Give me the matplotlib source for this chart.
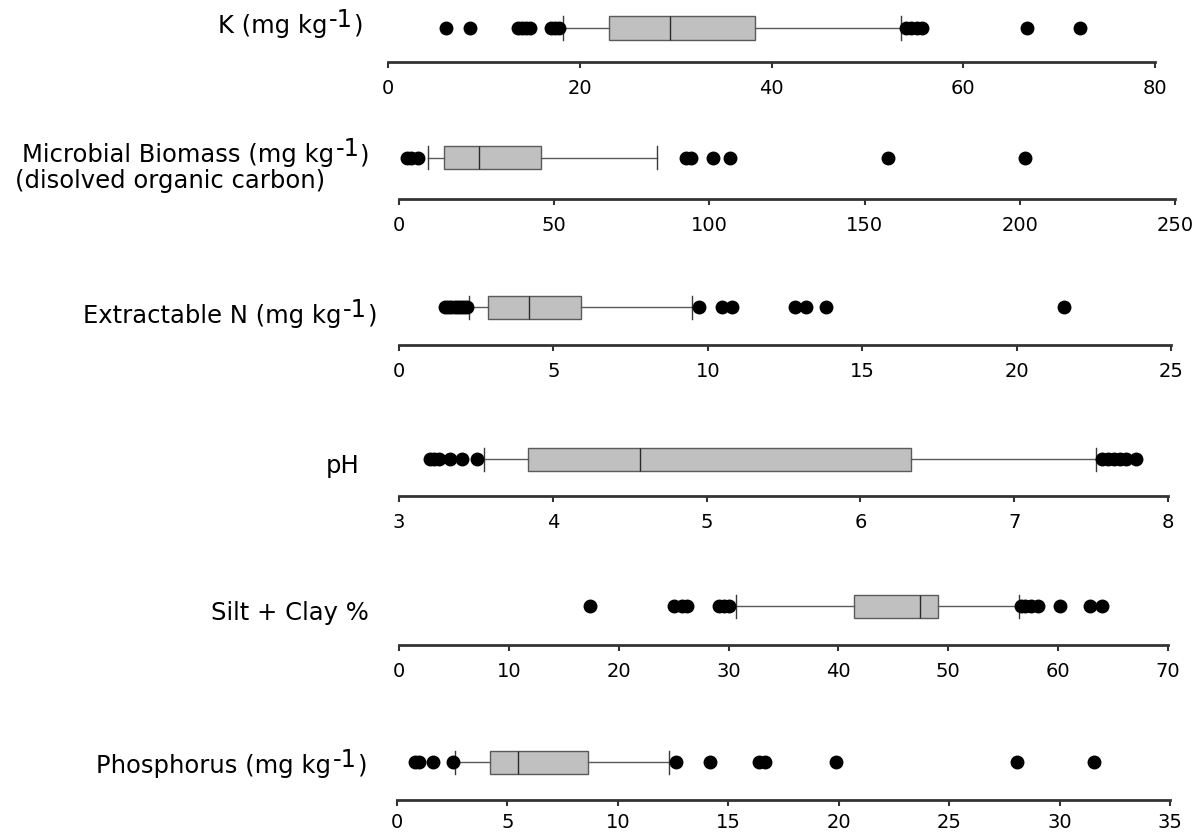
import matplotlib
matplotlib.use("Agg")
import matplotlib.pyplot as plt

# ---------------- data ----------------
label_parts = [
    [("K (mg kg", False), ("-1", True), (")", False)],
    [("Microbial Biomass (mg kg", False), ("-1", True), (")", False)],
    [("Extractable N (mg kg", False), ("-1", True), (")", False)],
    [("pH", False)],
    [("Silt + Clay %", False)],
    [("Phosphorus (mg kg", False), ("-1", True), (")", False)],
]
second_line = "(disolved organic carbon)"

q1s = [23.1, 14.5, 2.87, 3.84, 41.4, 4.2]
medians = [29.4, 25.9, 4.22, 4.57, 47.4, 5.48]
q3s = [38.3, 45.8, 5.9, 6.33, 49.1, 8.64]
whislos = [18.3, 9.3, 2.28, 3.55, 30.7, 2.62]
whishis = [53.5, 83.2, 9.48, 7.53, 56.4, 12.3]

fliers_k = [6.1, 8.6, 13.6, 14.0, 14.4, 14.8, 17.0, 17.4, 17.8,
            54.0, 54.6, 55.2, 55.7, 66.6, 72.2]
fliers_mb = [2.5, 4.0, 6.0, 92.5, 94.0, 101.2, 106.5, 157.5, 201.6]
fliers_n = [1.5, 1.6, 1.7, 1.8, 1.9, 2.0, 2.1, 2.2,
            9.71, 10.46, 10.78, 12.84, 13.18, 13.83, 21.55]
fliers_ph = [3.2, 3.23, 3.26, 3.33, 3.41, 3.51,
             7.57, 7.61, 7.65, 7.69, 7.73, 7.79]
fliers_silt = [17.4, 25.0, 25.8, 26.25, 29.1, 29.6, 30.0,
               56.6, 57.0, 57.5, 58.2, 60.2, 62.9, 64.0]
fliers_p = [0.8, 1.0, 1.63, 2.53, 12.64, 14.17, 16.4, 16.65, 19.86, 28.06, 31.55]
fliers = [fliers_k, fliers_mb, fliers_n, fliers_ph, fliers_silt, fliers_p]

ticks_k = [0, 20, 40, 60, 80]
ticks_mb = [0, 50, 100, 150, 200, 250]
ticks_n = [0, 5, 10, 15, 20, 25]
ticks_ph = [3, 4, 5, 6, 7, 8]
ticks_silt = [0, 10, 20, 30, 40, 50, 60, 70]
ticks_p = [0, 5, 10, 15, 20, 25, 30, 35]
ticks = [ticks_k, ticks_mb, ticks_n, ticks_ph, ticks_silt, ticks_p]

# ---------------- layout (pixels) ----------------
W, H = 1198, 835
x0_px = [388, 399, 399, 399, 399, 397]
x1_px = [1155, 1175, 1171, 1168, 1168, 1170]
box_y = [28, 158, 307, 459, 606, 762]
axis_y = [62, 199, 345, 496, 645, 800]
tick_pad = [8, 8, 8, 8, 8, 5.5]
label_xr = [363, 370, 377, 360, 369, 367]
label_base = [33, 162, 323, 473, 620, 773]
line2_x, line2_base = 15, 188
SUP_RAISE = 6
BOX_H = 23
FONT = ['DejaVu Sans']
LABEL_SIZE = 17.5
TICK_SIZE = 14

plt.rcParams['font.family'] = FONT

fig = plt.figure(figsize=(W / 100, H / 100), dpi=100)
renderer = fig.canvas.get_renderer()


def place_label(xr, yb, parts):
    x = xr
    for txt, sup in reversed(parts):
        y = yb - (SUP_RAISE if sup else 0)
        t = fig.text(x / W, 1 - y / H, txt, ha='right', va='baseline',
                     fontsize=LABEL_SIZE, color='black')
        bb = t.get_window_extent(renderer)
        x -= bb.width + 1


for i in range(6):
    hpx = 2 * (axis_y[i] - box_y[i])
    ax = fig.add_axes([x0_px[i] / W, 1 - axis_y[i] / H,
                       (x1_px[i] - x0_px[i]) / W, hpx / H])
    stats = [dict(q1=q1s[i], med=medians[i], q3=q3s[i],
                  whislo=whislos[i], whishi=whishis[i], fliers=fliers[i])]
    w = BOX_H / hpx
    ax.bxp(stats, positions=[0.5], widths=w, capwidths=w, vert=False,
           patch_artist=True,
           boxprops=dict(facecolor='#c0c0c0', edgecolor='#5a5a5a', linewidth=1.0),
           whiskerprops=dict(color='#5a5a5a', linewidth=1.0),
           capprops=dict(color='#3a3a3a', linewidth=1.0),
           medianprops=dict(color='#2a2a2a', linewidth=1.0),
           flierprops=dict(marker='o', markerfacecolor='black',
                           markeredgecolor='black', markersize=9))
    for art in ax.get_children():
        try:
            art.set_clip_on(False)
        except Exception:
            pass
    ax.set_ylim(0, 1)
    ax.set_xlim(ticks[i][0], ticks[i][-1])
    ax.set_xticks(ticks[i])
    ax.set_xticklabels([str(t) for t in ticks[i]])
    ax.set_yticks([])
    for s in ['top', 'left', 'right']:
        ax.spines[s].set_visible(False)
    ax.spines['bottom'].set_linewidth(2.0)
    ax.spines['bottom'].set_color('#333333')
    ax.tick_params(axis='x', direction='out', length=4, width=1.5,
                   color='#333333', labelsize=TICK_SIZE, pad=tick_pad[i],
                   labelcolor='black')
    ax.patch.set_visible(False)

    place_label(label_xr[i], label_base[i], label_parts[i])

fig.text(line2_x / W, 1 - line2_base / H, second_line, ha='left', va='baseline',
         fontsize=LABEL_SIZE, color='black')

fig.savefig("out.png", dpi=100)
